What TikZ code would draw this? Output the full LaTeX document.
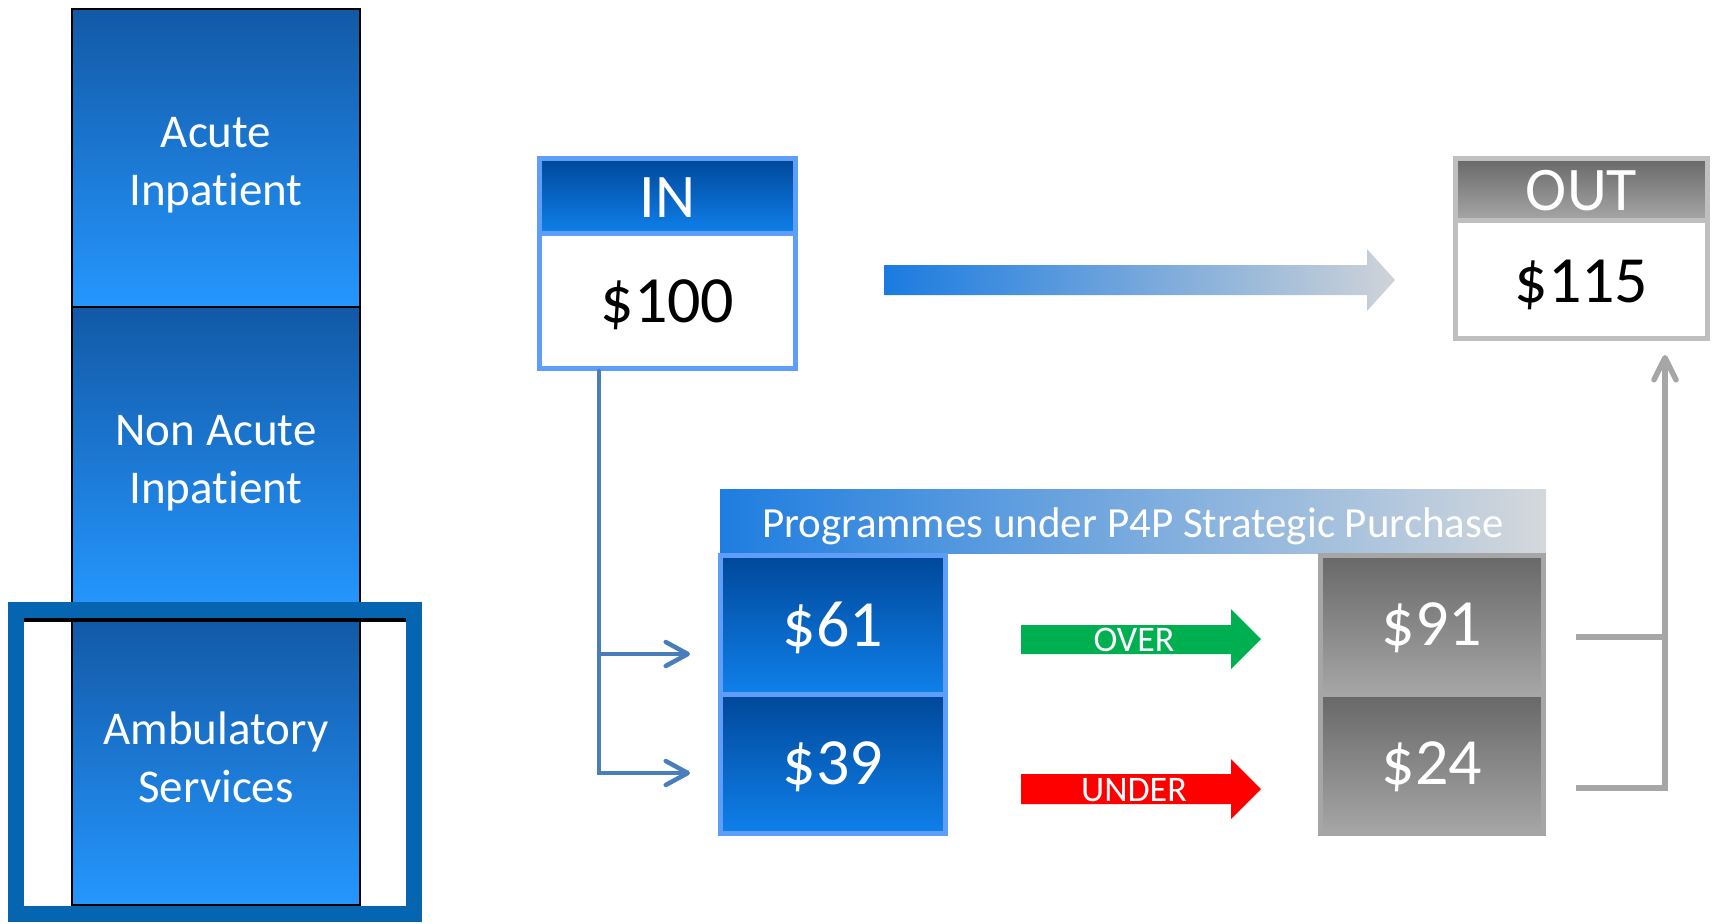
\documentclass[tikz,border=0pt]{standalone}
\usepackage{fontspec}
\setmainfont{Carlito}[Ligatures=NoCommon]
\usetikzlibrary{arrows.meta}

% palette
\definecolor{catTop}{HTML}{1259A6}
\definecolor{catBot}{HTML}{2597FF}
\definecolor{frameBlue}{HTML}{0565B0}
\definecolor{edgeBlue}{HTML}{5E9EF8}
\definecolor{deepTop}{HTML}{00489A}
\definecolor{deepBot}{HTML}{0F80EA}
\definecolor{greyTop}{HTML}{686868}
\definecolor{greyBot}{HTML}{A6A6A6}
\definecolor{greyEdge}{HTML}{BFBFBF}
\definecolor{linkBlue}{HTML}{4A7EBB}
\definecolor{linkGrey}{HTML}{A6A6A6}
\definecolor{flowL}{HTML}{1A7BE0}
\definecolor{flowR}{HTML}{CFD3D8}
\definecolor{barL}{HTML}{1E7DE0}
\definecolor{barR}{HTML}{D4D8DC}
\definecolor{overGreen}{HTML}{00B050}
\definecolor{underRed}{HTML}{FF0000}

\begin{document}
\begin{tikzpicture}[x=0.5pt,y=-0.5pt,
  cattext/.style={text=white, align=center, font=\fontsize{23.5}{29}\selectfont, inner sep=0pt},
  catbox/.style={draw=black, line width=0.75pt, top color=catTop, bottom color=catBot,
    inner sep=0pt, outer sep=0pt, minimum width=144pt},
  headtext/.style={text=white, font=\fontsize{31}{31}\selectfont, inner sep=0pt},
  valtext/.style={text=black, font=\fontsize{33}{33}\selectfont, inner sep=0pt},
  amttext/.style={text=white, font=\fontsize{33}{33}\selectfont, inner sep=0pt},
  bluehead/.style={draw=edgeBlue, line width=2.5pt, top color=deepTop, bottom color=deepBot,
    inner sep=0pt, minimum width=128pt},
  blueval/.style={draw=edgeBlue, line width=2.5pt, fill=white, inner sep=0pt, minimum width=128pt},
  greyhead/.style={draw=greyEdge, line width=2.5pt, top color=greyTop, bottom color=greyBot,
    inner sep=0pt, minimum width=126pt},
  greyval/.style={draw=greyEdge, line width=2.5pt, fill=white, inner sep=0pt, minimum width=126pt},
  amtblue/.style={draw=edgeBlue, line width=2.5pt, top color=deepTop, bottom color=deepBot,
    inner sep=0pt, minimum width=112.5pt, minimum height=69.5pt},
  amtgrey/.style={draw=greyBot, line width=2.5pt, top color=greyTop, bottom color=greyBot,
    inner sep=0pt, minimum width=111.5pt, minimum height=69.5pt},
  arrowlabel/.style={text=white, font=\fontsize{18}{18}\selectfont, inner sep=0pt},
  bluelink/.style={draw=linkBlue, line width=2.25pt, line cap=round,
    -{Straight Barb[length=11pt,width=12pt,round]}},
  greylink/.style={draw=linkGrey, line width=2.75pt,
    -{Straight Barb[length=11pt,width=11pt,round]}}
]
\useasboundingbox (0,0) rectangle (1715,923);

% service categories
\node[catbox, minimum height=149pt,
  label={[cattext, yshift=-3.5pt]center:Acute\\Inpatient}] (acute) at (216,158) {};
\node[catbox, minimum height=151pt,
  label={[cattext, yshift=-2.5pt]center:Non Acute\\Inpatient}] (nonacute) at (216,458) {};
\node[catbox, minimum height=143pt,
  label={[cattext, yshift=2.5pt]center:Ambulatory\\Services}] (amb) at (216,762) {};
\draw[black, line width=2.5pt] (24,619.5) -- (406,619.5);
\draw[frameBlue, line width=8pt] (16,610) rectangle (414,914);

% IN box
\node[bluehead, minimum height=37.25pt,
  label={[headtext, yshift=-1pt]center:IN}] (inhead) at (667.5,195.75) {};
\node[blueval, minimum height=67.75pt,
  label={[valtext, yshift=-2.2pt]center:\$100}] (inval) at (667.5,300.75) {};

% OUT box
\node[greyhead, minimum height=30.75pt,
  label={[headtext, yshift=-0.5pt]center:OUT}] (outhead) at (1581.5,189.25) {};
\node[greyval, minimum height=59.25pt,
  label={[valtext, yshift=-2.7pt]center:\$115}] (outval) at (1581.5,279.25) {};

% overall flow arrow
\shade[left color=flowL, right color=flowR]
  (884,265) -- (1367,265) -- (1367,249) -- (1395,280) -- (1367,311)
  -- (1367,295) -- (884,295) -- cycle;

% programme bar
\node[left color=barL, right color=barR, inner sep=0pt,
  minimum width=413pt, minimum height=32pt,
  label={[text=white, inner sep=0pt, font=\fontsize{21.5}{21.5}\selectfont, yshift=-2.7pt]center:Programmes under P4P Strategic Purchase}]
  (prog) at (1133,521) {};

% amounts
\node[amtblue, label={[amttext, yshift=-1.6pt]center:\$61}] (v61) at (833,625) {};
\node[amtblue, label={[amttext, yshift=-1.6pt]center:\$39}] (v39) at (833,764) {};
\node[amtgrey, label={[amttext, yshift=-1.6pt]center:\$91}] (v91) at (1432,625) {};
\node[amtgrey, label={[amttext, yshift=-1.6pt]center:\$24}] (v24) at (1432,764) {};

% OVER / UNDER block arrows
\fill[overGreen] (1021,625) -- (1231,625) -- (1231,609) -- (1261,639)
  -- (1231,669) -- (1231,654) -- (1021,654) -- cycle;
\node[arrowlabel] (over) at (1134,640) {OVER};
\fill[underRed] (1021,774) -- (1231,774) -- (1231,759) -- (1261,789)
  -- (1231,819) -- (1231,804) -- (1021,804) -- cycle;
\node[arrowlabel] (under) at (1134,790) {UNDER};

% split of the incoming budget
\coordinate (trunk) at ([xshift=-34.25pt]inval.south);
\coordinate (to61) at ([xshift=-14pt,yshift=-14.5pt]v61.west);
\coordinate (to39) at ([xshift=-14pt,yshift=-4.5pt]v39.west);
\draw[bluelink] (trunk) |- (to39);
\draw[bluelink] (trunk |- to61) -- (to61);

% recombination into the outgoing total
\coordinate (from91) at ([xshift=15pt,yshift=-6pt]v91.east);
\coordinate (from24) at ([xshift=15pt,yshift=-12pt]v24.east);
\coordinate (rail) at ([xshift=41.75pt,yshift=-7pt]outval.south);
\draw[draw=linkGrey, line width=2.75pt] (from91) -- (from91 -| rail);
\draw[greylink] (from24) -| (rail);
\end{tikzpicture}
\end{document}
